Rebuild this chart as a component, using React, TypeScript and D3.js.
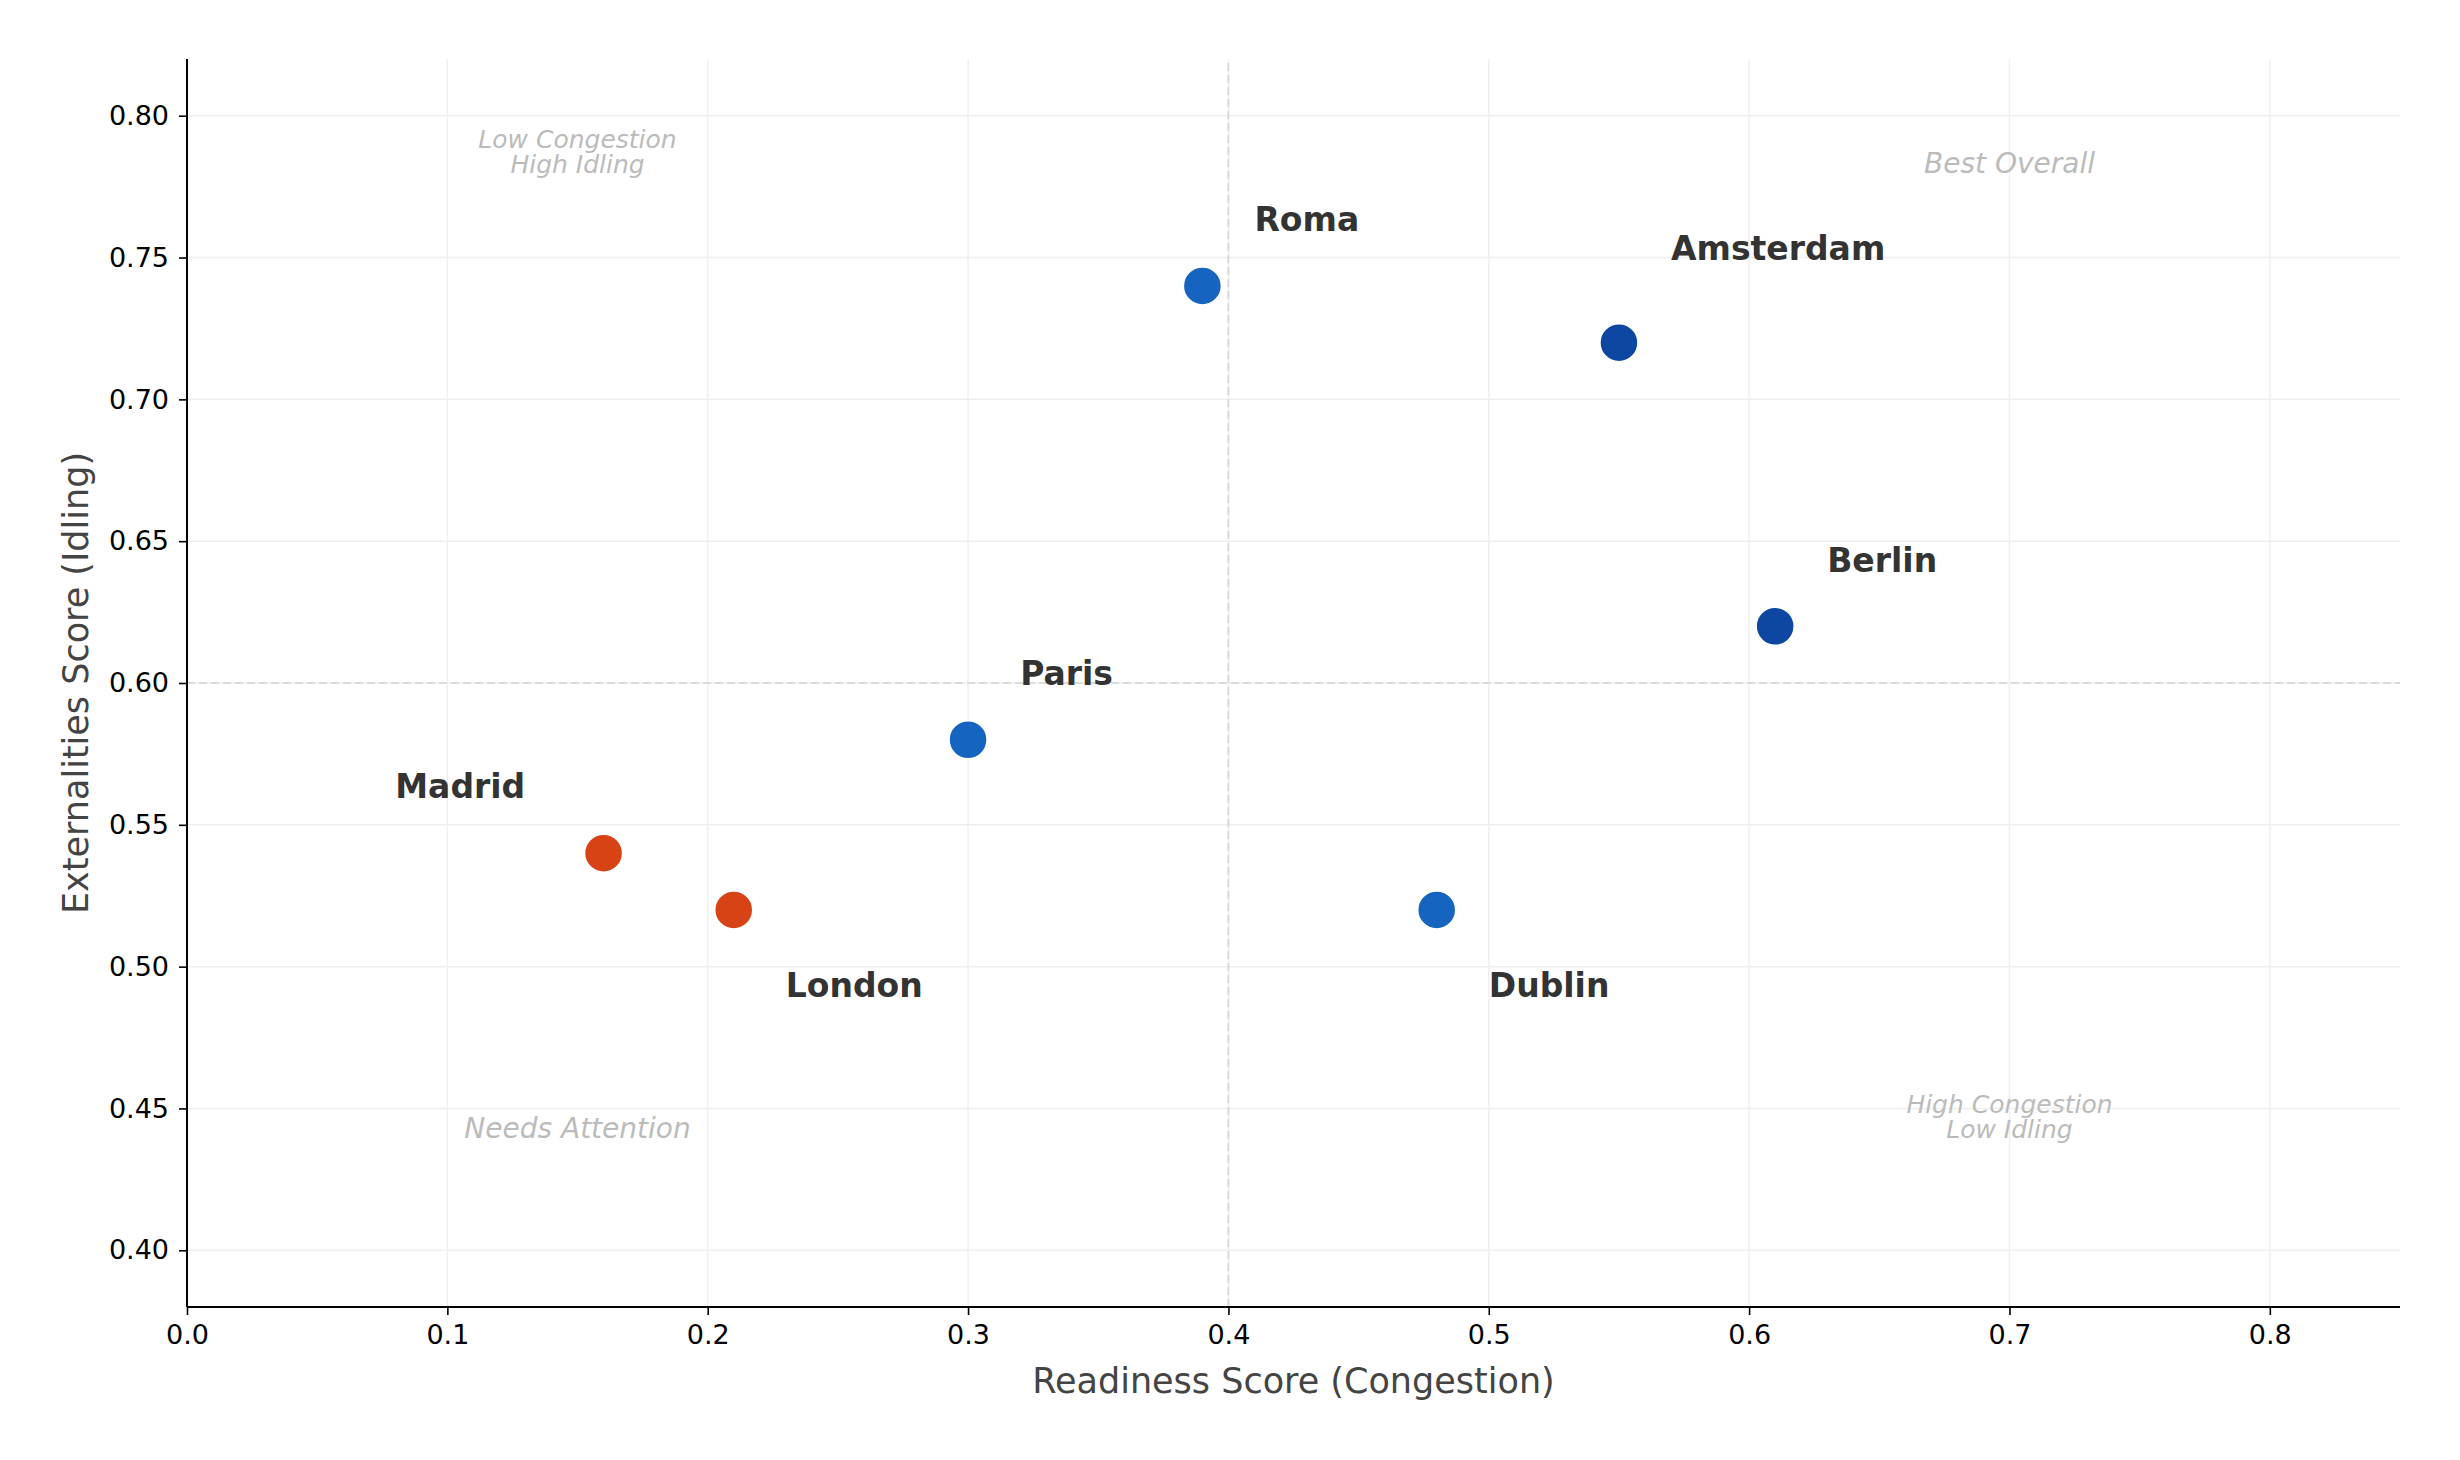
import React, {useEffect, useRef} from 'react';
import * as d3 from 'd3';

// city data
const cities: string[] = ["Roma", "Amsterdam", "Berlin", "Paris", "Madrid", "London", "Dublin"];
const readiness: number[] = [0.39, 0.55, 0.61, 0.30, 0.16, 0.21, 0.48];
const externalities: number[] = [0.74, 0.72, 0.62, 0.58, 0.54, 0.52, 0.52];
const colors: string[] = ["#1565c0", "#0d47a1", "#0d47a1", "#1565c0", "#d84315", "#d84315", "#1565c0"];
// label offsets in data units
const labelDx: number[] = [0.02, 0.02, 0.02, 0.02, -0.08, 0.02, 0.02];
const labelDy: number[] = [0.02, 0.03, 0.02, 0.02, 0.02, -0.03, -0.03];

const xTicks: number[] = [0, 0.1, 0.2, 0.3, 0.4, 0.5, 0.6, 0.7, 0.8];
const yTicks: number[] = [0.40, 0.45, 0.50, 0.55, 0.60, 0.65, 0.70, 0.75, 0.80];

// quadrant captions
const quadText: string[][] = [["Low Congestion", "High Idling"], ["Best Overall"], ["Needs Attention"], ["High Congestion", "Low Idling"]];
const quadX: number[] = [0.15, 0.70, 0.15, 0.70];
const quadY: number[] = [0.78, 0.78, 0.44, 0.44];

const App = () => {
  const ref = useRef<SVGSVGElement>(null);

  useEffect(() => {
    drawChart();
    return () => {
      d3.select(ref.current).selectAll("*").remove();
    };
  }, []);

  const drawChart = () => {
    const width = 2460;
    const height = 1460;
    const margin = {top: 59, right: 60, bottom: 153, left: 187};

    const svg = d3.select(ref.current);

    const x = d3.scaleLinear().domain([0, 0.85]).range([margin.left, width - margin.right]);
    const y = d3.scaleLinear().domain([0.38, 0.82]).range([height - margin.bottom, margin.top]);

    const font = "DejaVu Sans, sans-serif";

    // grid
    svg.append("g").selectAll("line")
      .data(xTicks)
      .enter().append("line")
      .attr("x1", d => x(d)).attr("x2", d => x(d))
      .attr("y1", y(0.38)).attr("y2", y(0.82))
      .attr("stroke", "#efefef").attr("stroke-width", 1.5);
    svg.append("g").selectAll("line")
      .data(yTicks)
      .enter().append("line")
      .attr("x1", x(0)).attr("x2", x(0.85))
      .attr("y1", d => y(d)).attr("y2", d => y(d))
      .attr("stroke", "#efefef").attr("stroke-width", 1.5);

    // quadrant dividers
    svg.append("line")
      .attr("x1", x(0.4)).attr("x2", x(0.4))
      .attr("y1", y(0.38)).attr("y2", y(0.82))
      .attr("stroke", "#d3d3d3").attr("stroke-width", 1.6)
      .attr("stroke-dasharray", "8,4");
    svg.append("line")
      .attr("x1", x(0)).attr("x2", x(0.85))
      .attr("y1", y(0.6)).attr("y2", y(0.6))
      .attr("stroke", "#d3d3d3").attr("stroke-width", 1.6)
      .attr("stroke-dasharray", "8,4");

    // quadrant captions, bottom aligned; two-line ones are a bit smaller
    quadText.forEach((lines, i) => {
      const fs = lines.length > 1 ? 25 : 28;
      const t = svg.append("text")
        .attr("x", x(quadX[i]))
        .attr("y", y(quadY[i]))
        .attr("text-anchor", "middle")
        .attr("font-family", font)
        .attr("font-style", "italic")
        .attr("font-size", fs + "px")
        .attr("fill", "#bbbbbb");
      lines.forEach((ln, j) => {
        t.append("tspan")
          .attr("x", x(quadX[i]))
          .attr("dy", j === 0 ? -(lines.length - 1) * 25 + 1 : 25)
          .text(ln);
      });
    });

    // axes
    const xAxis = svg.append("g")
      .attr("transform", `translate(0,${height - margin.bottom})`)
      .call(d3.axisBottom(x).tickValues(xTicks).tickFormat(d3.format(".1f")).tickSize(8).tickPadding(10));
    const yAxis = svg.append("g")
      .attr("transform", `translate(${margin.left},0)`)
      .call(d3.axisLeft(y).tickValues(yTicks).tickFormat(d3.format(".2f")).tickSize(8).tickPadding(10));

    [xAxis, yAxis].forEach(a => {
      a.selectAll("path").attr("stroke", "#000").attr("stroke-width", 2);
      a.selectAll("line").attr("stroke", "#000").attr("stroke-width", 1.6);
      a.selectAll("text").attr("font-family", font).attr("font-size", "27px").attr("fill", "#000");
    });
    // matplotlib spines have no end ticks
    xAxis.select("path").attr("d", `M${x(0)},0H${x(0.85)}`);
    yAxis.select("path").attr("d", `M0,${y(0.38)}V${y(0.82)}`);

    // axis titles
    svg.append("text")
      .attr("x", (margin.left + width - margin.right) / 2)
      .attr("y", 1393)
      .attr("text-anchor", "middle")
      .attr("font-family", font)
      .attr("font-size", "35px")
      .attr("fill", "#444")
      .text("Readiness Score (Congestion)");
    svg.append("text")
      .attr("transform", `translate(88,${(margin.top + height - margin.bottom) / 2}) rotate(-90)`)
      .attr("text-anchor", "middle")
      .attr("font-family", font)
      .attr("font-size", "35px")
      .attr("fill", "#444")
      .text("Externalities Score (Idling)");

    // points
    svg.append("g").selectAll("circle")
      .data(cities)
      .enter().append("circle")
      .attr("cx", (d, i) => x(readiness[i]))
      .attr("cy", (d, i) => y(externalities[i]))
      .attr("r", 19)
      .attr("fill", (d, i) => colors[i])
      .attr("stroke", "#fff")
      .attr("stroke-width", 1.5);

    // city labels
    svg.append("g").selectAll("text")
      .data(cities)
      .enter().append("text")
      .attr("x", (d, i) => x(readiness[i] + labelDx[i]))
      .attr("y", (d, i) => y(externalities[i] + labelDy[i]) + 2)
      .attr("font-family", font)
      .attr("font-weight", "bold")
      .attr("font-size", "33px")
      .attr("fill", "#333")
      .text(d => d);
  };

  return (
    <svg ref={ref} width={2460} height={1460}
      style={{position: "absolute", left: 0, top: 0, background: "#fff"}} />
  );
};

export default App;
